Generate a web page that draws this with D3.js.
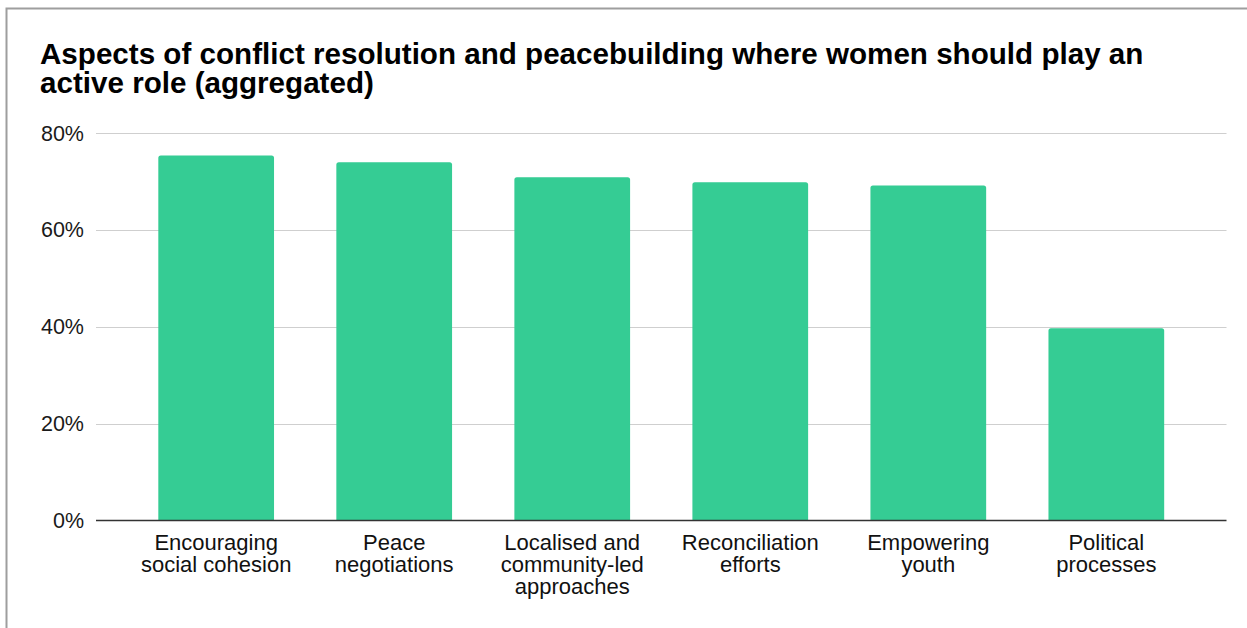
<!DOCTYPE html>
<html>
<head>
<meta charset="utf-8">
<script src="https://cdn.jsdelivr.net/npm/d3@7"></script>
<style>
  html, body { margin: 0; padding: 0; background: #fff; }
  svg { display: block; font-family: "Liberation Sans", Arial, Helvetica, sans-serif; }
</style>
</head>
<body>
<svg id="chart" width="1247" height="628"></svg>
<script>
// Share of respondents naming each area (aggregated)
const categories = [
  ["Encouraging", "social cohesion"],
  ["Peace", "negotiations"],
  ["Localised and", "community-led", "approaches"],
  ["Reconciliation", "efforts"],
  ["Empowering", "youth"],
  ["Political", "processes"]
];
const values = [0.754, 0.740, 0.709, 0.699, 0.692, 0.397];
const yTicks = [0, 0.2, 0.4, 0.6, 0.8];
const titleLines = [
  "Aspects of conflict resolution and peacebuilding where women should play an",
  "active role (aggregated)"
];

const svg = d3.select("#chart");
const W = 1247, H = 628;
const plot = { left: 96, right: 1226.5, top: 133.3, bottom: 520.5 };

// card outline
svg.append("rect")
  .attr("x", 6.5).attr("y", 8.5)
  .attr("width", W + 20).attr("height", H + 20)
  .attr("fill", "#fff")
  .attr("stroke", "#9e9e9e").attr("stroke-width", 2);

// title
svg.append("text")
  .attr("x", 40).attr("y", 63.5)
  .attr("font-size", 29.6).attr("font-weight", "bold").attr("fill", "#000")
  .selectAll("tspan").data(titleLines).join("tspan")
  .attr("x", 40).attr("dy", (d, i) => i === 0 ? 0 : 29.7)
  .text(d => d);

const x = d3.scaleBand()
  .domain(d3.range(categories.length))
  .range([plot.left, plot.right])
  .padding(0.35);

const y = d3.scaleLinear().domain([0, 0.8]).range([plot.bottom, plot.top]);

// horizontal gridlines
svg.append("g")
  .selectAll("line").data(yTicks.filter(t => t > 0)).join("line")
  .attr("x1", plot.left).attr("x2", plot.right)
  .attr("y1", d => Math.round(y(d)) + 0.5).attr("y2", d => Math.round(y(d)) + 0.5)
  .attr("stroke", "#cfcfcf").attr("stroke-width", 1);

// y axis labels
const yAxis = d3.axisLeft(y).tickValues(yTicks).tickFormat(d3.format(".0%")).tickSize(0).tickPadding(12);
const gy = svg.append("g").attr("transform", `translate(${plot.left},0)`).call(yAxis);
gy.select(".domain").remove();
gy.selectAll("text")
  .attr("font-family", "'Liberation Sans', Arial, sans-serif")
  .attr("font-size", 21.5).attr("fill", "#1a1a1a");

// bars with slightly rounded top corners
const r = 2.5;
svg.append("g")
  .selectAll("path").data(values).join("path")
  .attr("fill", "#35cc94")
  .attr("d", (d, i) => {
    const x0 = x(i), x1 = x(i) + x.bandwidth(), y0 = y(d), yb = y(0);
    return `M${x0},${yb}V${y0 + r}Q${x0},${y0} ${x0 + r},${y0}H${x1 - r}Q${x1},${y0} ${x1},${y0 + r}V${yb}Z`;
  });

// baseline
svg.append("line")
  .attr("x1", plot.left).attr("x2", plot.right)
  .attr("y1", y(0)).attr("y2", y(0))
  .attr("stroke", "#333").attr("stroke-width", 1.5);

// category labels
const xl = svg.append("g");
categories.forEach((lines, i) => {
  const cx = x(i) + x.bandwidth() / 2;
  xl.append("text")
    .attr("text-anchor", "middle")
    .attr("font-size", 22).attr("fill", "#111")
    .selectAll("tspan").data(lines).join("tspan")
    .attr("x", cx).attr("y", (d, j) => 550 + j * 22.2)
    .text(d => d);
});
</script>
</body>
</html>
